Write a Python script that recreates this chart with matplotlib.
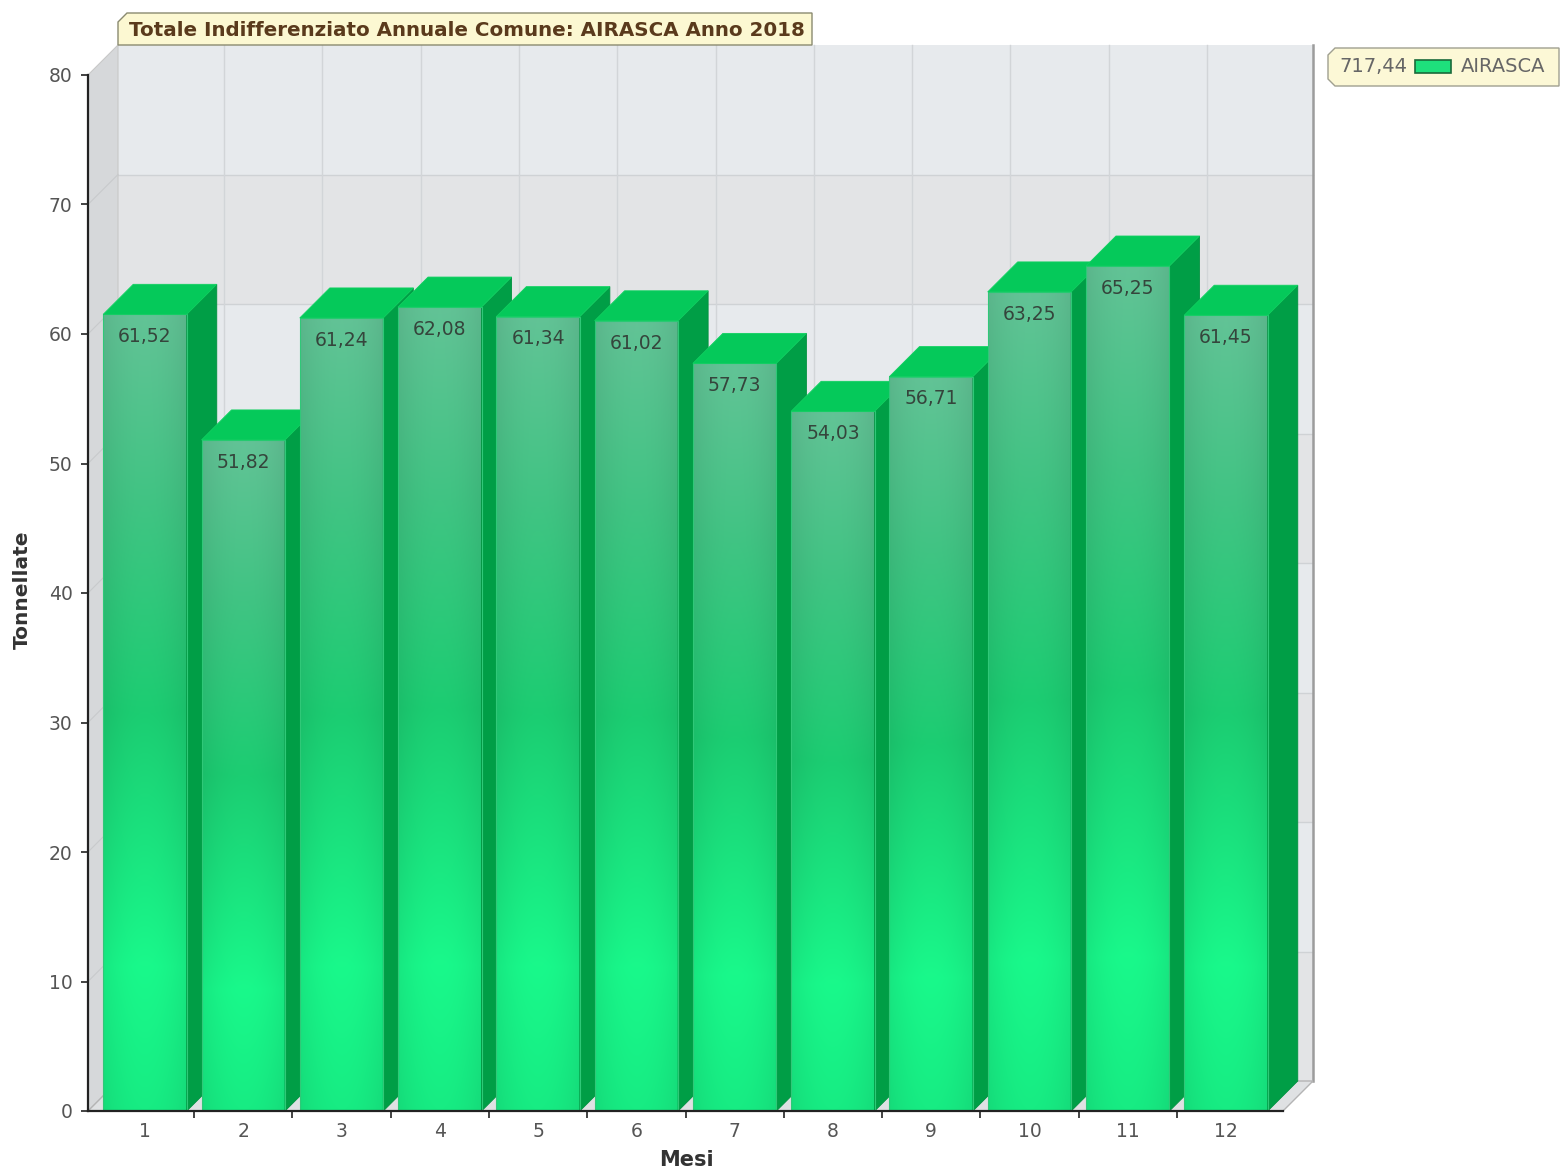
import matplotlib
matplotlib.use("Agg")
import matplotlib.pyplot as plt
import numpy as np
from matplotlib.patches import Polygon, Rectangle
from matplotlib.colors import LinearSegmentedColormap

# ---------------- data ----------------
months = [1, 2, 3, 4, 5, 6, 7, 8, 9, 10, 11, 12]
values = [61.52, 51.82, 61.24, 62.08, 61.34, 61.02, 57.73, 54.03, 56.71, 63.25, 65.25, 61.45]
value_labels = [f"{v:.2f}".replace(".", ",") for v in values]
series_name = "AIRASCA"
total_label = f"{sum(values):.2f}".replace(".", ",")
title = "Totale Indifferenziato Annuale Comune: AIRASCA Anno 2018"
y_ticks = [0, 10, 20, 30, 40, 50, 60, 70, 80]
x_label = "Mesi"
y_label = "Tonnellate"

# ---------------- style ----------------
W, H = 1560, 1171
DEPTH_PX = 30
BAR_W = 0.85
XMIN, XMAX = 0.42, 12.58
YMIN, YMAX = 0, 80
tick_color = "#555555"

fig = plt.figure(figsize=(W / 100, H / 100), dpi=100)
fig.patch.set_facecolor("white")
ax = fig.add_axes([88 / W, 60 / H, 1195 / W, 1036 / H])
ax.set_xlim(XMIN, XMAX)
ax.set_ylim(YMIN, YMAX)
ax.patch.set_visible(False)

# depth in data units
p0 = ax.transData.transform((XMIN, 0))
inv = ax.transData.inverted()
q = inv.transform(p0 + np.array([DEPTH_PX, DEPTH_PX]))
dx, dy = q[0] - XMIN, q[1] - 0

# ---------------- walls ----------------
for k in range(len(y_ticks) - 1):
    y0, y1 = y_ticks[k], y_ticks[k + 1]
    col = "#e3e4e6" if (len(y_ticks) - 2 - k) % 2 == 1 else "#e7eaed"
    ax.add_patch(Rectangle((XMIN + dx, y0 + dy), XMAX - XMIN, y1 - y0,
                           facecolor=col, edgecolor="none", zorder=0.5, clip_on=False))
for yt in y_ticks[1:-1]:
    ax.plot([XMIN + dx, XMAX + dx], [yt + dy, yt + dy], color="#cfd2d5", lw=1.0,
            zorder=0.6, clip_on=False)
    ax.plot([XMIN, XMIN + dx], [yt, yt + dy], color="#c8cacc", lw=0.8,
            zorder=0.75, clip_on=False)
for b in np.arange(1.5, 12.5, 1.0):
    ax.plot([b + dx, b + dx], [dy, YMAX + dy], color="#d2d5d8", lw=1.0,
            zorder=0.6, clip_on=False)
ax.plot([XMAX + dx, XMAX + dx], [dy, YMAX + dy], color="#9c9c9c", lw=1.8,
        zorder=0.7, clip_on=False)
ax.add_patch(Polygon([(XMIN, 0), (XMIN + dx, dy), (XMIN + dx, YMAX + dy), (XMIN, YMAX)],
                     closed=True, facecolor="#d6d8da", edgecolor="#c8c8c8", lw=0.8,
                     zorder=0.7, clip_on=False))
ax.add_patch(Polygon([(XMIN, 0), (XMAX, 0), (XMAX + dx, dy), (XMIN + dx, dy)],
                     closed=True, facecolor="#dfe1e3", edgecolor="#b4b4b4", lw=1.0,
                     zorder=0.8, clip_on=False))

# ---------------- bars ----------------
grad_cmap = LinearSegmentedColormap.from_list(
    "barv",
    [(0.0, "#17ec83"), (0.18, "#19f98b"), (0.5, "#1ccd72"), (0.76, "#40c483"), (1.0, "#62c396")])
nv, nh = 256, 64
vv = np.linspace(0, 1, nv)[:, None]
hh = np.linspace(-1, 1, nh)[None, :]
base = grad_cmap(vv)[:, :, :3] * np.ones((nv, nh, 1))
shade = (1.0 - 0.07 * hh ** 2)[:, :, None]
grad_img = np.clip(base * shade, 0, 1)

side_col = "#009e46"
top_col = "#05c95a"

for i, (m, v, lab) in enumerate(zip(months, values, value_labels)):
    xl, xr = m - BAR_W / 2, m + BAR_W / 2
    z = 2 + i * 0.1
    ax.imshow(grad_img, extent=[xl, xr, 0, v], origin="lower", aspect="auto",
              zorder=z, interpolation="bilinear")
    ax.add_patch(Polygon([(xr, 0), (xr + dx, dy), (xr + dx, v + dy), (xr, v)], closed=True,
                         facecolor=side_col, edgecolor="#00913f", lw=0.6, zorder=z + 0.01,
                         clip_on=False))
    ax.add_patch(Polygon([(xl, v), (xr, v), (xr + dx, v + dy), (xl + dx, v + dy)], closed=True,
                         facecolor=top_col, edgecolor="#10d060", lw=0.6, zorder=z + 0.02,
                         clip_on=False))
    ax.add_patch(Rectangle((xl, 0), BAR_W, v, facecolor="none", edgecolor="#30c878",
                           lw=0.8, zorder=z + 0.015))
    ax.annotate(lab, xy=(m, v), xytext=(0, -16), textcoords="offset points",
                ha="center", va="center", fontsize=13.5, color="#35453c", zorder=z + 0.05,
                family="DejaVu Sans")

ax.set_xlim(XMIN, XMAX)
ax.set_ylim(YMIN, YMAX)

# ---------------- axes ----------------
for s in ["top", "right"]:
    ax.spines[s].set_visible(False)
for s in ["left", "bottom"]:
    ax.spines[s].set_color("#222222")
    ax.spines[s].set_linewidth(1.6)
    ax.spines[s].set_zorder(5)

ax.set_yticks(y_ticks)
ax.set_yticklabels([str(t) for t in y_ticks])
ax.tick_params(axis="y", direction="out", length=5, width=1.2, color="#222222",
               labelcolor=tick_color, labelsize=13.5, pad=6)
ax.set_xticks(np.arange(1.5, 12.5, 1.0))
ax.set_xticklabels([])
ax.tick_params(axis="x", which="major", direction="out", length=5, width=1.2, color="#222222")
ax.set_xticks(months, minor=True)
ax.set_xticklabels([str(m) for m in months], minor=True)
ax.tick_params(axis="x", which="minor", length=0, labelcolor=tick_color, labelsize=13.5, pad=8)

fig.text(22 / W, 1 - 590 / H, y_label, rotation=90, ha="center", va="center",
         fontsize=14.5, fontweight="bold", color="#333333")
fig.text(686 / W, 1 - 1160 / H, x_label, ha="center", va="center",
         fontsize=15, fontweight="bold", color="#333333")

# ---------------- title box ----------------
def fx(px):
    return px / W

def fy(py):
    return 1 - py / H

bx0, bx1, by0, by1, bev = 118, 812, 13, 45, 9
fig.patches.append(Polygon([(fx(bx0), fy(by1)), (fx(bx0), fy(by0 + bev)), (fx(bx0 + bev), fy(by0)),
                            (fx(bx1), fy(by0)), (fx(bx1), fy(by1))], closed=True,
                           transform=fig.transFigure, facecolor="#fcf8d2", edgecolor="#8a8a70",
                           lw=1.0, zorder=3))
t = fig.text(fx((bx0 + bx1) / 2 + 2), fy((by0 + by1) / 2 + 1), title, ha="center", va="center",
             fontsize=12, fontweight="bold", color="#5a3a1c", zorder=4, family="DejaVu Sans")
fig.canvas.draw()
r = fig.canvas.get_renderer()
wpx = t.get_window_extent(r).width
t.set_fontsize(12 * 673 / wpx)

# ---------------- legend box ----------------
lx0, lx1, ly0, ly1, lb = 1328, 1559, 48, 86, 7
fig.patches.append(Polygon([(fx(lx0 + lb), fy(ly1)), (fx(lx0), fy(ly1 - lb)), (fx(lx0), fy(ly0 + lb)),
                            (fx(lx0 + lb), fy(ly0)), (fx(lx1), fy(ly0)), (fx(lx1), fy(ly1))],
                           closed=True, transform=fig.transFigure, facecolor="#fcf8d6",
                           edgecolor="#a0a090", lw=1.0, zorder=3))
fig.text(fx(1339), fy(66), total_label, ha="left", va="center", fontsize=14,
         color="#666666", zorder=4)
fig.patches.append(Rectangle((fx(1415), fy(73)), (1451 - 1415) / W, 13 / H,
                             transform=fig.transFigure, facecolor="#1ee07c",
                             edgecolor="#1a6a3a", lw=1.2, zorder=4))
fig.text(fx(1461), fy(66), series_name, ha="left", va="center", fontsize=14,
         color="#666666", zorder=4)

fig.savefig("out.png", dpi=100)
